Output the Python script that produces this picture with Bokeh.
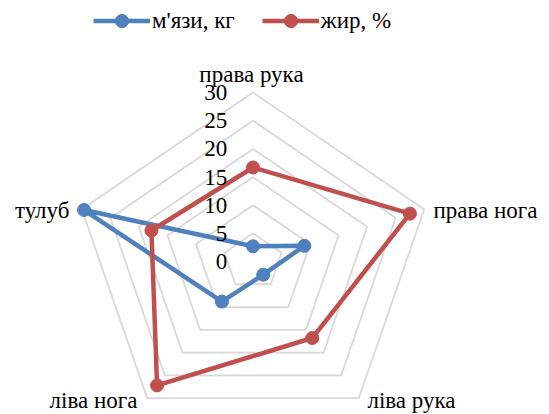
import numpy as np
from bokeh.plotting import figure
from bokeh.models import Range1d, Legend, LegendItem, InlineStyleSheet
from bokeh.core.properties import value
from bokeh.embed import file_html
from bokeh.resources import INLINE

# ---- data ----
categories = ["права рука", "права нога", "ліва рука", "ліва нога", "тулуб"]
muscle_kg = [2.7, 9.0, 2.9, 8.8, 29.6]
fat_pct = [16.7, 27.5, 16.8, 27.2, 17.8]
tick_values = [0, 5, 10, 15, 20, 25, 30]
tick_labels = ["0", "5", "10", "15", "20", "25", "30"]
series_names = ["м'язи, кг", "жир, %"]

# ---- layout ----
W, H = 549, 414
CX, CY = 252.5, 261.0          # pixel centre of radar
SX, SY = 6.0, 5.63             # pixels per unit (x, y)
FONT = "Liberation Serif"
FS = "23px"
BLUE = "#4f81bd"
RED = "#c0504d"
GRID = "#d9d9d9"

n = len(categories)
angles = np.pi / 2 - np.arange(n) * 2 * np.pi / n


def polar(vals):
    v = np.asarray(vals, dtype=float)
    return [float(a) for a in v * np.cos(angles)], [float(b) for b in v * np.sin(angles)]


css = InlineStyleSheet(css="text { font-family: 'Liberation Serif', 'Times New Roman', serif !important; }")

p = figure(width=W, height=H, output_backend="svg", toolbar_location=None,
           x_range=Range1d((0 - CX) / SX, (W - CX) / SX),
           y_range=Range1d((CY - H) / SY, CY / SY),
           min_border=0, outline_line_color=None, stylesheets=[css])
p.axis.visible = False
p.grid.visible = False

# rings
for t in tick_values[1:]:
    xs, ys = polar([t] * n)
    p.line(xs + [xs[0]], ys + [ys[0]], line_color=GRID, line_width=1.8)

# series
renderers = []
for vals, col in [(muscle_kg, BLUE), (fat_pct, RED)]:
    xs, ys = polar(vals)
    l = p.line(xs + [xs[0]], ys + [ys[0]], line_color=col, line_width=4.5)
    s = p.scatter(xs, ys, size=13, fill_color=col, line_color=col)
    renderers.append((l, s))

# tick labels on the vertical axis
p.text(x=[-4.3] * len(tick_values), y=tick_values, text=tick_labels,
       text_font=value(FONT), text_font_size=FS, text_color="black",
       text_align="right", text_baseline="middle")

# category labels
label_px = [(251, 74, "center"), (433, 210, "left"), (411, 400, "center"),
            (93, 400, "center"), (69, 210, "right")]
for (px, py, al), name in zip(label_px, categories):
    p.text(x=[(px - CX) / SX], y=[(CY - py) / SY], text=[name],
           text_font=value(FONT), text_font_size=FS, text_color="black",
           text_align=al, text_baseline="middle")

legend = Legend(items=[LegendItem(label=series_names[i], renderers=list(renderers[i]))
                       for i in range(2)],
                orientation="horizontal", location=(93, 377),
                label_text_font=FONT, label_text_font_size=FS,
                label_text_color="black",
                glyph_width=57, glyph_height=33, label_standoff=2, spacing=27,
                padding=0, margin=0, border_line_color=None,
                background_fill_alpha=0)
p.add_layout(legend)

open("out.html", "w").write(file_html(p, INLINE))
